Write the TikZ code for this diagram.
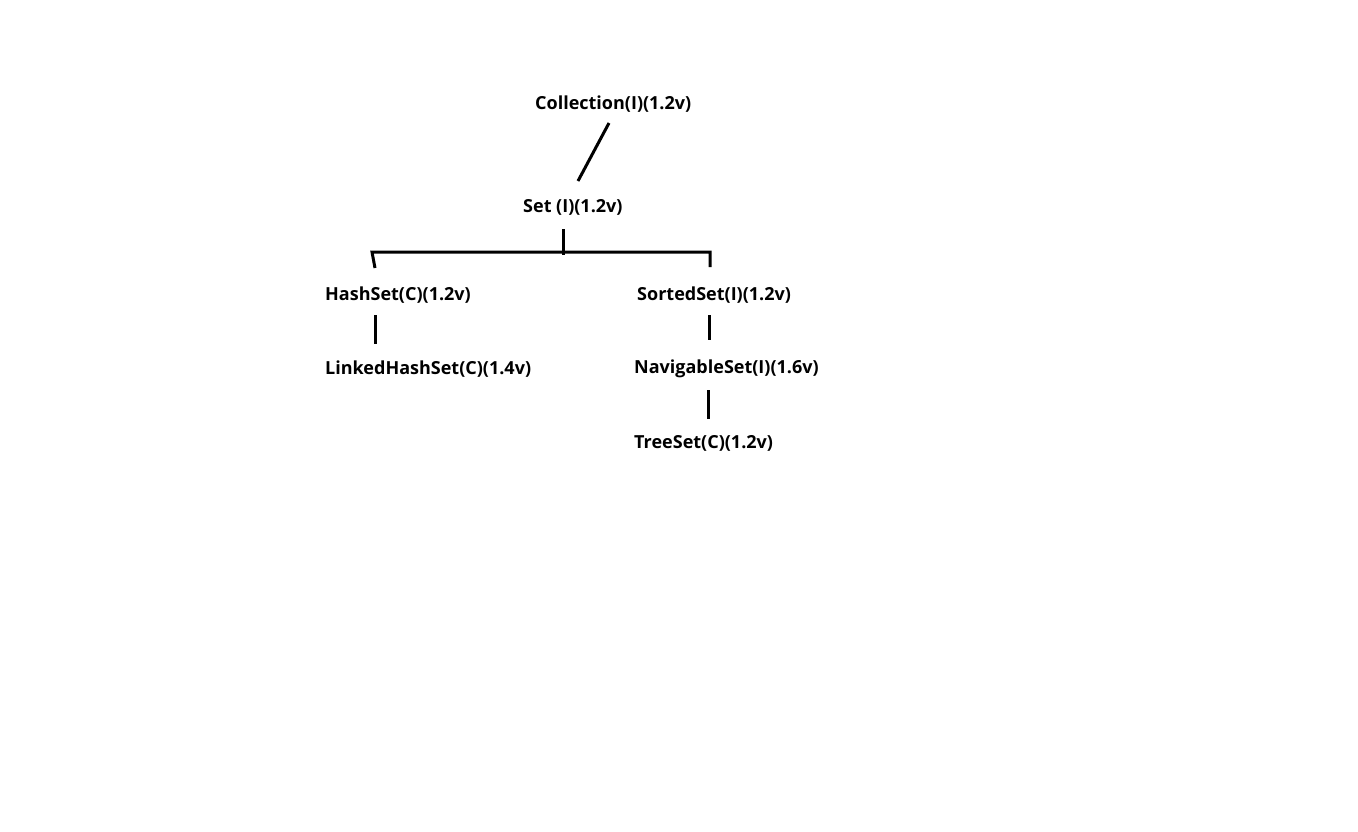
\documentclass[tikz,border=0pt]{standalone}
\usepackage{fontspec}
\setmainfont{Open Sans}
\begin{document}
\begin{tikzpicture}[x=1pt,y=-1pt,
  lbl/.style={anchor=west,inner sep=0pt,font=\fontsize{18}{21}\selectfont\bfseries},
  conn/.style={line width=3pt,black}]
\useasboundingbox[fill=white] (0,0) rectangle (1358,831);
\node[lbl] (coll) at (535,104) {Collection(I)(1.2v)};
\node[lbl] (set) at (523,207) {Set (I)(1.2v)};
\node[lbl] (hash) at (325,295) {HashSet(C)(1.2v)};
\node[lbl] (sorted) at (637,295) {SortedSet(I)(1.2v)};
\node[lbl] (linked) at (325,369) {LinkedHashSet(C)(1.4v)};
\node[lbl] (nav) at (634,369) {NavigableSet(I)(1.6v)};
\node[lbl] (tree) at (634,443) {TreeSet(C)(1.2v)};
\coordinate (c1) at (609,123);
\coordinate (c2) at (578,181);
\coordinate (s1) at (563,229);
\coordinate (s2) at (563,255);
\coordinate (bl) at (372,252);
\coordinate (br) at (710,252);
\coordinate (hl) at (375,268);
\coordinate (sr) at (710,267);
\coordinate (h1) at (375,315);
\coordinate (h2) at (375,344);
\coordinate (o1) at (709,315);
\coordinate (o2) at (709,340);
\coordinate (n1) at (708,390);
\coordinate (n2) at (708,419);
\draw[conn] (c1) -- (c2);
\draw[conn] (s1) -- (s2);
\draw[conn] (hl) -- (bl) -- (br) -- (sr);
\draw[conn] (h1) -- (h2);
\draw[conn] (o1) -- (o2);
\draw[conn] (n1) -- (n2);
\end{tikzpicture}
\end{document}
